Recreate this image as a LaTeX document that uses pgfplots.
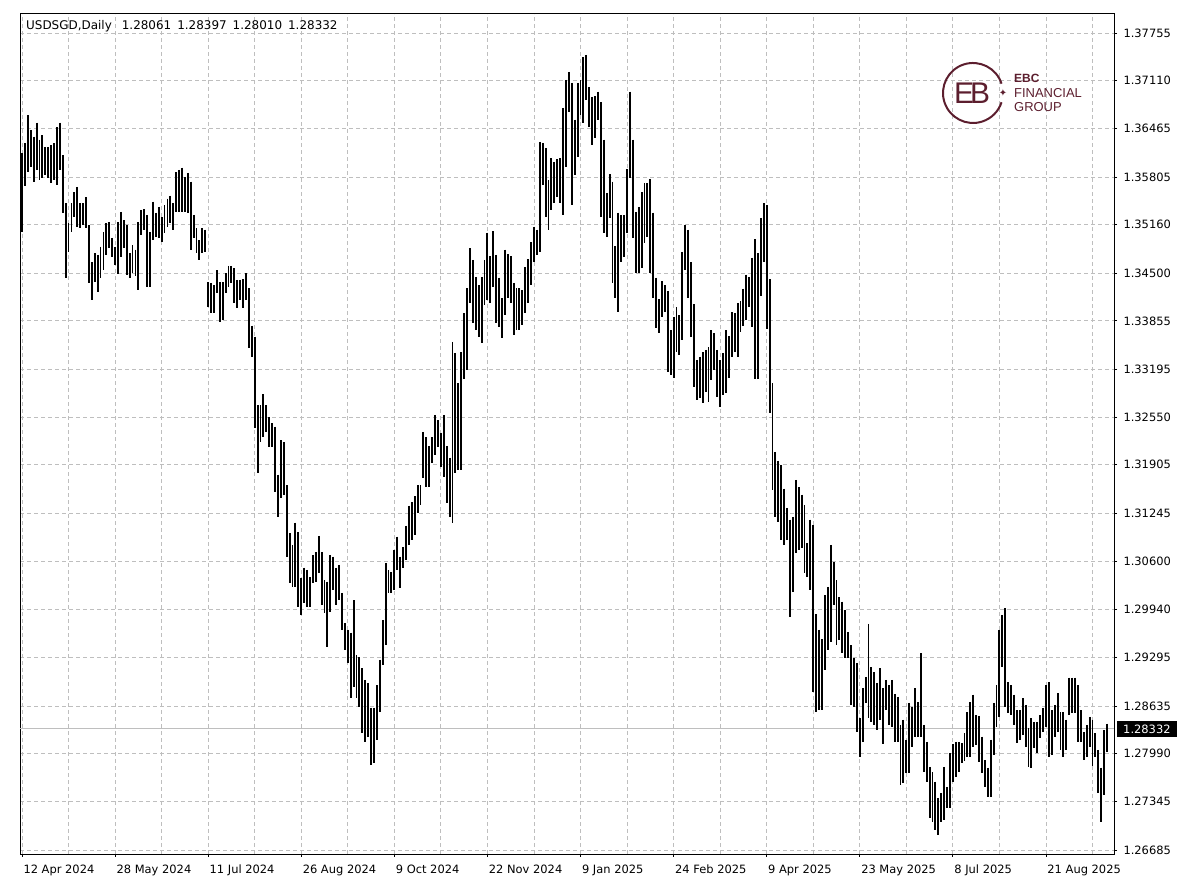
\documentclass[border=0pt]{standalone}
\usepackage{pgfplots}
\pgfplotsset{compat=1.18}
\usepackage{pgfplotstable}
\usepackage{fontspec}
\setmainfont{DejaVu Sans}
\newfontfamily\lib{Liberation Sans}
\definecolor{ebc}{RGB}{92,30,46}
\definecolor{gridc}{RGB}{190,190,190}
\pgfplotstableread{
x h l
0 1.3613 1.3506
1 1.3626 1.3568
2 1.3664 1.3587
3 1.3644 1.3594
4 1.3635 1.3574
5 1.3654 1.3590
6 1.3631 1.3576
7 1.3637 1.3579
8 1.3621 1.3583
9 1.3621 1.3579
10 1.3624 1.3572
11 1.3626 1.3576
12 1.3648 1.3570
13 1.3654 1.3590
14 1.3610 1.3532
15 1.3545 1.3444
16 1.3518 1.3479
17 1.3545 1.3506
18 1.3560 1.3526
19 1.3567 1.3513
20 1.3545 1.3511
21 1.3545 1.3515
22 1.3553 1.3511
23 1.3515 1.3437
24 1.3465 1.3414
25 1.3477 1.3438
26 1.3475 1.3425
27 1.3486 1.3444
28 1.3506 1.3454
29 1.3518 1.3475
30 1.3519 1.3484
31 1.3498 1.3472
32 1.3486 1.3461
33 1.3519 1.3449
34 1.3533 1.3472
35 1.3522 1.3484
36 1.3515 1.3448
37 1.3477 1.3444
38 1.3488 1.3450
39 1.3482 1.3446
40 1.3519 1.3427
41 1.3536 1.3502
42 1.3537 1.3509
43 1.3529 1.3431
44 1.3506 1.3431
45 1.3547 1.3495
46 1.3532 1.3499
47 1.3540 1.3498
48 1.3526 1.3492
49 1.3542 1.3505
50 1.3551 1.3513
51 1.3555 1.3518
52 1.3545 1.3509
53 1.3587 1.3533
54 1.3590 1.3533
55 1.3593 1.3533
56 1.3580 1.3533
57 1.3586 1.3532
58 1.3574 1.3482
59 1.3529 1.3498
60 1.3511 1.3477
61 1.3495 1.3468
62 1.3511 1.3477
63 1.3509 1.3479
64 1.3438 1.3404
65 1.3437 1.3396
66 1.3434 1.3396
67 1.3454 1.3423
68 1.3438 1.3384
69 1.3438 1.3387
70 1.3450 1.3423
71 1.3460 1.3431
72 1.3460 1.3437
73 1.3457 1.3410
74 1.3441 1.3403
75 1.3441 1.3414
76 1.3442 1.3403
77 1.3450 1.3414
78 1.3430 1.3349
79 1.3379 1.3337
80 1.3364 1.3240
81 1.3271 1.3179
82 1.3271 1.3221
83 1.3286 1.3228
84 1.3271 1.3235
85 1.3255 1.3215
86 1.3247 1.3215
87 1.3242 1.3154
88 1.3177 1.3120
89 1.3224 1.3145
90 1.3221 1.3150
91 1.3163 1.3066
92 1.3098 1.3030
93 1.3082 1.3025
94 1.3112 1.3025
95 1.3099 1.2998
96 1.3037 1.2987
97 1.3051 1.3003
98 1.3048 1.2998
99 1.3038 1.2998
100 1.3068 1.3030
101 1.3072 1.3032
102 1.3094 1.3044
103 1.3072 1.3000
104 1.3034 1.2990
105 1.3032 1.2944
106 1.3068 1.2991
107 1.3066 1.3021
108 1.3051 1.3000
109 1.3055 1.3007
110 1.3017 1.2967
111 1.2976 1.2940
112 1.2967 1.2922
113 1.2963 1.2874
114 1.3007 1.2889
115 1.2933 1.2874
116 1.2930 1.2862
117 1.2915 1.2827
118 1.2899 1.2815
119 1.2895 1.2822
120 1.2861 1.2784
121 1.2861 1.2786
122 1.2892 1.2818
123 1.2926 1.2855
124 1.2980 1.2919
125 1.3057 1.2946
126 1.3048 1.3017
127 1.3045 1.3017
128 1.3075 1.3021
129 1.3093 1.3048
130 1.3066 1.3024
131 1.3079 1.3051
132 1.3108 1.3061
133 1.3135 1.3082
134 1.3140 1.3089
135 1.3148 1.3095
136 1.3163 1.3125
137 1.3163 1.3136
138 1.3235 1.3173
139 1.3228 1.3160
140 1.3216 1.3160
141 1.3228 1.3193
142 1.3258 1.3204
143 1.3251 1.3215
144 1.3234 1.3187
145 1.3258 1.3174
146 1.3216 1.3139
147 1.3200 1.3120
148 1.3357 1.3112
149 1.3342 1.3179
150 1.3301 1.3183
151 1.3343 1.3183
152 1.3396 1.3307
153 1.3430 1.3319
154 1.3484 1.3410
155 1.3468 1.3383
156 1.3445 1.3373
157 1.3434 1.3364
158 1.3445 1.3355
159 1.3468 1.3407
160 1.3505 1.3414
161 1.3473 1.3410
162 1.3507 1.3431
163 1.3475 1.3383
164 1.3444 1.3377
165 1.3416 1.3362
166 1.3482 1.3393
167 1.3476 1.3416
168 1.3473 1.3410
169 1.3437 1.3366
170 1.3430 1.3373
171 1.3430 1.3373
172 1.3427 1.3380
173 1.3458 1.3396
174 1.3469 1.3410
175 1.3492 1.3434
176 1.3513 1.3465
177 1.3509 1.3475
178 1.3628 1.3479
179 1.3626 1.3570
180 1.3620 1.3526
181 1.3576 1.3509
182 1.3606 1.3536
183 1.3601 1.3545
184 1.3605 1.3553
185 1.3606 1.3545
186 1.3674 1.3529
187 1.3712 1.3594
188 1.3723 1.3668
189 1.3708 1.3542
190 1.3658 1.3583
191 1.3708 1.3608
192 1.3712 1.3664
193 1.3743 1.3654
194 1.3746 1.3685
195 1.3702 1.3648
196 1.3689 1.3624
197 1.3690 1.3633
198 1.3696 1.3658
199 1.3682 1.3526
200 1.3631 1.3505
201 1.3559 1.3499
202 1.3584 1.3525
203 1.3574 1.3437
204 1.3487 1.3416
205 1.3532 1.3397
206 1.3529 1.3465
207 1.3529 1.3472
208 1.3591 1.3505
209 1.3696 1.3579
210 1.3631 1.3498
211 1.3533 1.3450
212 1.3540 1.3450
213 1.3560 1.3457
214 1.3572 1.3491
215 1.3572 1.3499
216 1.3578 1.3450
217 1.3532 1.3416
218 1.3444 1.3376
219 1.3415 1.3369
220 1.3439 1.3391
221 1.3434 1.3397
222 1.3426 1.3316
223 1.3373 1.3312
224 1.3391 1.3308
225 1.3404 1.3343
226 1.3393 1.3339
227 1.3479 1.3360
228 1.3515 1.3454
229 1.3509 1.3416
230 1.3465 1.3364
231 1.3408 1.3296
232 1.3332 1.3278
233 1.3337 1.3281
234 1.3343 1.3274
235 1.3346 1.3289
236 1.3350 1.3276
237 1.3373 1.3305
238 1.3369 1.3319
239 1.3346 1.3282
240 1.3332 1.3269
241 1.3342 1.3285
242 1.3373 1.3288
243 1.3365 1.3308
244 1.3397 1.3337
245 1.3396 1.3343
246 1.3410 1.3337
247 1.3412 1.3370
248 1.3429 1.3379
249 1.3448 1.3387
250 1.3445 1.3404
251 1.3471 1.3377
252 1.3496 1.3307
253 1.3477 1.3307
254 1.3525 1.3419
255 1.3545 1.3465
256 1.3542 1.3374
257 1.3442 1.3261
258 1.3301 1.3156
259 1.3208 1.3120
260 1.3196 1.3113
261 1.3190 1.3089
262 1.3158 1.3082
263 1.3132 1.3089
264 1.3116 1.2984
265 1.3120 1.3018
266 1.3170 1.3071
267 1.3160 1.3075
268 1.3150 1.3078
269 1.3136 1.3044
270 1.3084 1.3038
271 1.3116 1.3021
272 1.3109 1.2883
273 1.2988 1.2855
274 1.2967 1.2858
275 1.2954 1.2858
276 1.3014 1.2912
277 1.3025 1.2940
278 1.3082 1.2950
279 1.3059 1.3000
280 1.3034 1.2946
281 1.3011 1.2953
282 1.3005 1.2935
283 1.2994 1.2929
284 1.2964 1.2929
285 1.2946 1.2865
286 1.2929 1.2862
287 1.2922 1.2828
288 1.2847 1.2795
289 1.2888 1.2815
290 1.2903 1.2868
291 1.2975 1.2847
292 1.2916 1.2842
293 1.2910 1.2838
294 1.2895 1.2831
295 1.2915 1.2845
296 1.2888 1.2812
297 1.2899 1.2858
298 1.2892 1.2838
299 1.2899 1.2835
300 1.2880 1.2815
301 1.2876 1.2815
302 1.2838 1.2757
303 1.2845 1.2759
304 1.2818 1.2773
305 1.2868 1.2773
306 1.2862 1.2808
307 1.2888 1.2822
308 1.2869 1.2822
309 1.2935 1.2822
310 1.2838 1.2774
311 1.2815 1.2761
312 1.2781 1.2712
313 1.2774 1.2706
314 1.2761 1.2696
315 1.2739 1.2689
316 1.2746 1.2706
317 1.2781 1.2709
318 1.2754 1.2725
319 1.2800 1.2725
320 1.2812 1.2761
321 1.2815 1.2767
322 1.2815 1.2774
323 1.2813 1.2786
324 1.2827 1.2789
325 1.2855 1.2795
326 1.2869 1.2795
327 1.2879 1.2808
328 1.2851 1.2811
329 1.2850 1.2788
330 1.2822 1.2773
331 1.2790 1.2754
332 1.2780 1.2740
333 1.2818 1.2740
334 1.2868 1.2797
335 1.2892 1.2835
336 1.2967 1.2849
337 1.2987 1.2916
338 1.2996 1.2862
339 1.2896 1.2854
340 1.2892 1.2851
341 1.2879 1.2838
342 1.2858 1.2813
343 1.2858 1.2818
344 1.2874 1.2824
345 1.2865 1.2808
346 1.2834 1.2781
347 1.2847 1.2780
348 1.2842 1.2807
349 1.2842 1.2800
350 1.2851 1.2820
351 1.2861 1.2828
352 1.2892 1.2835
353 1.2896 1.2795
354 1.2858 1.2797
355 1.2865 1.2822
356 1.2881 1.2828
357 1.2855 1.2804
358 1.2855 1.2795
359 1.2845 1.2804
360 1.2902 1.2851
361 1.2902 1.2854
362 1.2902 1.2854
363 1.2892 1.2815
364 1.2858 1.2815
365 1.2828 1.2790
366 1.2838 1.2795
367 1.2849 1.2808
368 1.2845 1.2782
369 1.2827 1.2795
370 1.2804 1.2746
371 1.2780 1.2706
372 1.2831 1.2743
373 1.28397 1.28010
}\bars
\begin{document}
\begin{tikzpicture}
\path[use as bounding box] (0bp,0bp) rectangle (1200bp,896bp);
\begin{axis}[
  at={(20bp,42bp)}, anchor=south west,
  scale only axis, width=1094bp, height=840bp,
  xmin=-0.69, xmax=375.4,
  ymin=1.266308, ymax=1.380128,
  axis line style={black, line width=1bp},
  xtick={0,32,...,352},
  xticklabels={12 Apr 2024,28 May 2024,11 Jul 2024,26 Aug 2024,9 Oct 2024,22 Nov 2024,9 Jan 2025,24 Feb 2025,9 Apr 2025,23 May 2025,8 Jul 2025,21 Aug 2025},
  minor xtick={16,48,...,368},
  ytick={1.26685,1.27345,1.27990,1.28635,1.29295,1.29940,1.30600,1.31245,1.31905,1.32550,1.33195,1.33855,1.34500,1.35160,1.35805,1.36465,1.37110,1.37755},
  yticklabels={1.26685,1.27345,1.27990,1.28635,1.29295,1.29940,1.30600,1.31245,1.31905,1.32550,1.33195,1.33855,1.34500,1.35160,1.35805,1.36465,1.37110,1.37755},
  xmajorgrids, xminorgrids, ymajorgrids,
  grid style={gridc, dash pattern=on 4bp off 3bp, line width=0.8bp},
  minor grid style={gridc, dash pattern=on 4bp off 3bp, line width=0.8bp},
  xtick pos=left, ytick pos=right, yticklabel pos=right,
  tick align=outside, major tick length=3bp, minor tick length=0pt,
  tick style={black, line width=0.8bp},
  tick label style={font=\fontsize{11.5}{12}\selectfont, black},
  xticklabel style={anchor=north west, xshift=-2bp, yshift=-4bp},
  yticklabel style={anchor=west, xshift=3bp},
  clip=true,
]
\addplot[gridc, line width=1bp, forget plot] coordinates {(-0.69,1.28332) (375.4,1.28332)};
\addplot[draw=none, mark=none, forget plot,
  error bars/.cd, y dir=minus, y explicit, error mark=none,
  error bar style={draw=black, line width=1.9bp}]
  table[x=x, y=h, y error minus expr=\thisrow{h}-\thisrow{l}] {\bars};
\end{axis}
% title
\node[anchor=west, inner sep=0pt, font=\fontsize{12}{12}\selectfont] at (26bp,870bp)
  {USDSGD,Daily\hspace{10bp}1.28061\hspace{6bp}1.28397\hspace{6bp}1.28010\hspace{6bp}1.28332};
% current price box
\node[anchor=west, fill=black, text=white, inner xsep=6bp, inner ysep=0pt, minimum height=16bp,
  font=\fontsize{11.5}{12}\selectfont] at (1117bp,167bp) {1.28332};
% logo
\draw[ebc, line width=2bp] (973bp,803bp) ++(18:30bp) arc[start angle=18, end angle=342, radius=30bp];
\node[ebc, font=\fontsize{10}{10}\selectfont] at (1003bp,803bp) {✦};
\node[ebc, font=\lib\fontsize{30}{30}\selectfont] at (972bp,803bp) {E\kern-4bp B};
\node[ebc, anchor=west, inner sep=0pt, font=\lib\bfseries\fontsize{12}{12}\selectfont] at (1014bp,818bp) {EBC};
\node[ebc, anchor=west, inner sep=0pt, font=\lib\fontsize{13}{13}\selectfont] at (1014bp,803bp) {FINANCIAL};
\node[ebc, anchor=west, inner sep=0pt, font=\lib\fontsize{13}{13}\selectfont] at (1014bp,789bp) {GROUP};
\end{tikzpicture}
\end{document}
